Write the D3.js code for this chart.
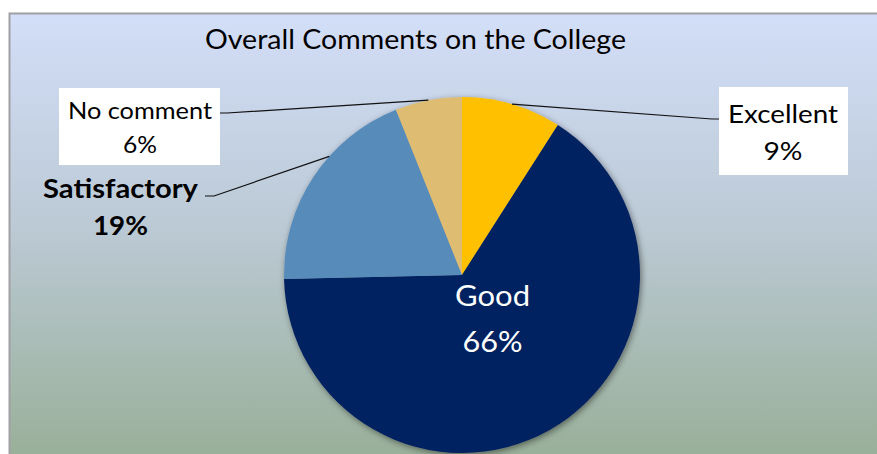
<!DOCTYPE html>
<html><head><meta charset="utf-8">
<script src="https://cdn.jsdelivr.net/npm/d3@7"></script>
<style>html,body{margin:0;padding:0;background:#fff;}svg{display:block;}</style>
</head><body>
<svg id="chart" width="877" height="454"></svg>
<script>
const title = "Overall Comments on the College";
const categories = ["Excellent", "Good", "Satisfactory", "No comment"];
const values = [9.05, 65.6, 19.3, 6.05];
const pctLabels = ["9%", "66%", "19%", "6%"];
const colors = ["#FFC000", "#002060", "#568BBA", "url(#noCommentGrad)"];

const W = 877, H = 454;
const svg = d3.select("#chart");
const defs = svg.append("defs");

const bg = defs.append("linearGradient").attr("id", "bgGrad")
  .attr("x1", 0).attr("y1", 0).attr("x2", 0).attr("y2", 1);
bg.append("stop").attr("offset", 0).attr("stop-color", "#D3DEF8");
bg.append("stop").attr("offset", 0.45).attr("stop-color", "#BCCAD6");
bg.append("stop").attr("offset", 1).attr("stop-color", "#96AD93");

const cx = 462, cy = 275, r = 178;

const nc = defs.append("radialGradient").attr("id", "noCommentGrad")
  .attr("gradientUnits", "userSpaceOnUse")
  .attr("cx", cx).attr("cy", cy).attr("r", r);
nc.append("stop").attr("offset", 0).attr("stop-color", "#C8963C");
nc.append("stop").attr("offset", 0.5).attr("stop-color", "#D9AE55");
nc.append("stop").attr("offset", 1).attr("stop-color", "#DEBC72");

const sh = defs.append("filter").attr("id", "shadow")
  .attr("x", "-20%").attr("y", "-20%").attr("width", "140%").attr("height", "140%");
sh.append("feDropShadow").attr("dx", 1.5).attr("dy", 2).attr("stdDeviation", 3)
  .attr("flood-color", "#000").attr("flood-opacity", 0.45);

// chart area
svg.append("rect").attr("x", 9.5).attr("y", 13.5).attr("width", W + 10).attr("height", H + 10)
  .attr("fill", "url(#bgGrad)").attr("stroke", "#A0A0A4").attr("stroke-width", 2);

const font = "Lato, 'Open Sans', sans-serif";

svg.append("text").attr("x", 415.5).attr("y", 49).attr("text-anchor", "middle")
  .attr("font-family", font).attr("font-size", 27)
  .attr("textLength", 421).attr("lengthAdjust", "spacingAndGlyphs")
  .attr("fill", "#000").text(title);

const pie = d3.pie().sort(null).value(d => d).startAngle(0).endAngle(2 * Math.PI);
const arcs = pie(values);
const arc = d3.arc().innerRadius(0).outerRadius(r);

const g = svg.append("g").attr("transform", `translate(${cx},${cy})`);
const pg = g.append("g").attr("filter", "url(#shadow)");
pg.selectAll("path").data(arcs).enter().append("path")
  .attr("d", arc).attr("fill", (d, i) => colors[i]);

function edgePoint(a, frac) {
  const ang = a.startAngle + (a.endAngle - a.startAngle) * frac;
  return [cx + r * Math.sin(ang), cy - r * Math.cos(ang)];
}
const lineG = svg.append("g").attr("fill", "none").attr("stroke", "#111").attr("stroke-width", 1.2);

const pE = edgePoint(arcs[0], 0.5);
lineG.append("polyline").attr("points", [pE, [712, 119], [719, 119]].map(p => p.join(",")).join(" "));
const pN = edgePoint(arcs[3], 0.5);
lineG.append("polyline").attr("points", [pN, [227, 113], [220, 113]].map(p => p.join(",")).join(" "));
const pS = edgePoint(arcs[2], 0.62);
lineG.append("polyline").attr("points", [pS, [214, 196], [205, 196]].map(p => p.join(",")).join(" "));

svg.append("rect").attr("x", 719).attr("y", 87).attr("width", 129).attr("height", 88).attr("fill", "#fff");
svg.append("rect").attr("x", 59).attr("y", 88).attr("width", 161).attr("height", 77).attr("fill", "#fff");

const labels = [
  {i: 0, x: 783, y1: 123, y2: 160, size: 25, weight: "normal", fill: "#000", w1: 110, w2: 39},
  {i: 1, x: 492.5, y1: 306, y2: 352, size: 29, weight: "normal", fill: "#fff", w1: 75, w2: 60},
  {i: 2, x: 120.5, y1: 198, y2: 235, size: 26, weight: "bold", fill: "#000", w1: 155, w2: 55},
  {i: 3, x: 140, y1: 119, y2: 153, size: 22.5, weight: "normal", fill: "#000", w1: 144, w2: 34}
];
const lg = svg.append("g").attr("font-family", font).attr("text-anchor", "middle");
labels.forEach(l => {
  const t = lg.append("g").attr("font-size", l.size).attr("font-weight", l.weight).attr("fill", l.fill);
  t.append("text").attr("x", l.x).attr("y", l.y1).attr("textLength", l.w1)
    .attr("lengthAdjust", "spacingAndGlyphs").text(categories[l.i]);
  t.append("text").attr("x", l.x).attr("y", l.y2).attr("textLength", l.w2)
    .attr("lengthAdjust", "spacingAndGlyphs").text(pctLabels[l.i]);
});
</script>
</body></html>
